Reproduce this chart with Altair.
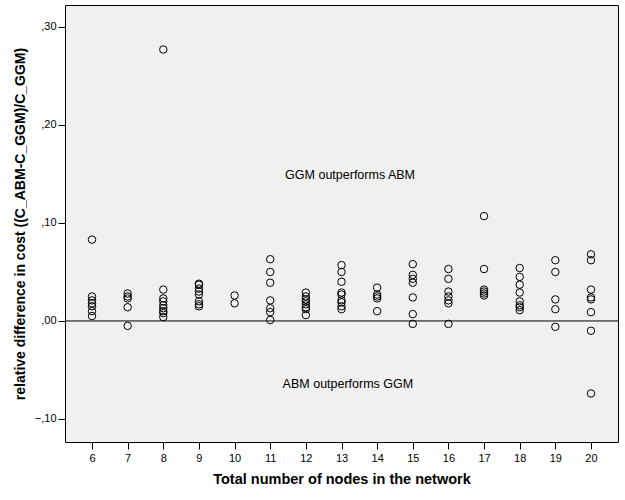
import altair as alt
import pandas as pd

nodes = [6, 7, 8, 9, 10, 11, 12, 13, 14, 15, 16, 17, 18, 19, 20]
v6 = [0.083, 0.025, 0.021, 0.018, 0.015, 0.010, 0.005]
v7 = [0.028, 0.025, 0.023, 0.014, -0.005]
v8 = [0.277, 0.032, 0.023, 0.020, 0.016, 0.013, 0.010, 0.008, 0.004]
v9 = [0.038, 0.037, 0.033, 0.030, 0.027, 0.020, 0.017, 0.015]
v10 = [0.026, 0.018]
v11 = [0.063, 0.050, 0.039, 0.021, 0.013, 0.009, 0.001]
v12 = [0.029, 0.025, 0.022, 0.020, 0.017, 0.014, 0.012, 0.006]
v13 = [0.057, 0.050, 0.040, 0.029, 0.027, 0.021, 0.019, 0.015, 0.012]
v14 = [0.034, 0.027, 0.025, 0.023, 0.010]
v15 = [0.058, 0.047, 0.043, 0.039, 0.024, 0.007, -0.003]
v16 = [0.053, 0.043, 0.030, 0.025, 0.021, 0.018, -0.003]
v17 = [0.107, 0.053, 0.032, 0.030, 0.028, 0.026]
v18 = [0.054, 0.045, 0.037, 0.029, 0.020, 0.016, 0.014, 0.011]
v19 = [0.062, 0.050, 0.022, 0.012, -0.006]
v20 = [0.068, 0.062, 0.032, 0.024, 0.022, 0.009, -0.010, -0.074]
columns = [v6, v7, v8, v9, v10, v11, v12, v13, v14, v15, v16, v17, v18, v19, v20]

y_ticks = [-0.1, 0.0, 0.1, 0.2, 0.3]
notes = ["GGM outperforms ABM", "ABM outperforms GGM"]
note_x = [13.24, 13.18]
note_y = [0.149, -0.064]

rows = []
for n, vals in zip(nodes, columns):
    for v in vals:
        rows.append({"nodes": n, "diff": v})
df = pd.DataFrame(rows)
notes_df = pd.DataFrame({"label": notes, "x": note_x, "y": note_y})

FONT = "Liberation Sans"
xs = alt.Scale(domain=[5.242, 20.758], nice=False, zero=False)
ys = alt.Scale(domain=[-0.1235, 0.3224], nice=False, zero=False)

x_axis = alt.Axis(values=nodes, tickCount=15, format="d", title="Total number of nodes in the network",
                  titleFont=FONT, titleFontSize=14.5, titleFontWeight="bold", titleColor="black",
                  titlePadding=9, labelFont=FONT, labelFontSize=11, labelColor="black",
                  labelOverlap=False, labelFlush=False,
                  tickColor="black", tickSize=7, domain=False, grid=False, labelPadding=3)
y_axis = alt.Axis(values=y_ticks,
                  labelExpr="replace(format(datum.value, '.2f'), '0.', ',')",
                  title="relative difference in cost ((C_ABM-C_GGM)/C_GGM)",
                  titleFont=FONT, titleFontSize=14, titleFontWeight="bold", titleColor="black",
                  titleX=-38, labelFont=FONT, labelFontSize=11, labelColor="black",
                  labelOverlap=False, labelFlush=False,
                  tickColor="black", tickSize=7, domain=False, grid=False, labelPadding=2)

points = alt.Chart(df).mark_point(
    shape="circle", filled=False, color="black", size=56, strokeWidth=1, opacity=1
).encode(x=alt.X("nodes:Q", scale=xs, axis=x_axis), y=alt.Y("diff:Q", scale=ys, axis=y_axis))

zero = alt.Chart(pd.DataFrame({"y": [0.0]})).mark_rule(color="black", strokeWidth=1).encode(
    y=alt.Y("y:Q", scale=ys, axis=y_axis)
)

text = alt.Chart(notes_df).mark_text(font=FONT, fontSize=12.5, color="black").encode(
    x=alt.X("x:Q", scale=xs, axis=x_axis), y=alt.Y("y:Q", scale=ys, axis=y_axis), text="label:N"
)

chart = (
    alt.layer(points, zero, text)
    .properties(width=553, height=437, background="white",
                padding={"left": 65, "top": 5, "right": 7, "bottom": 58},
                autosize=alt.AutoSizeParams(type="none"))
    .configure_view(fill="#f0f0f0", stroke="black", strokeWidth=1)
)

chart.save("out.html", embed_options={"renderer": "svg", "actions": False})
